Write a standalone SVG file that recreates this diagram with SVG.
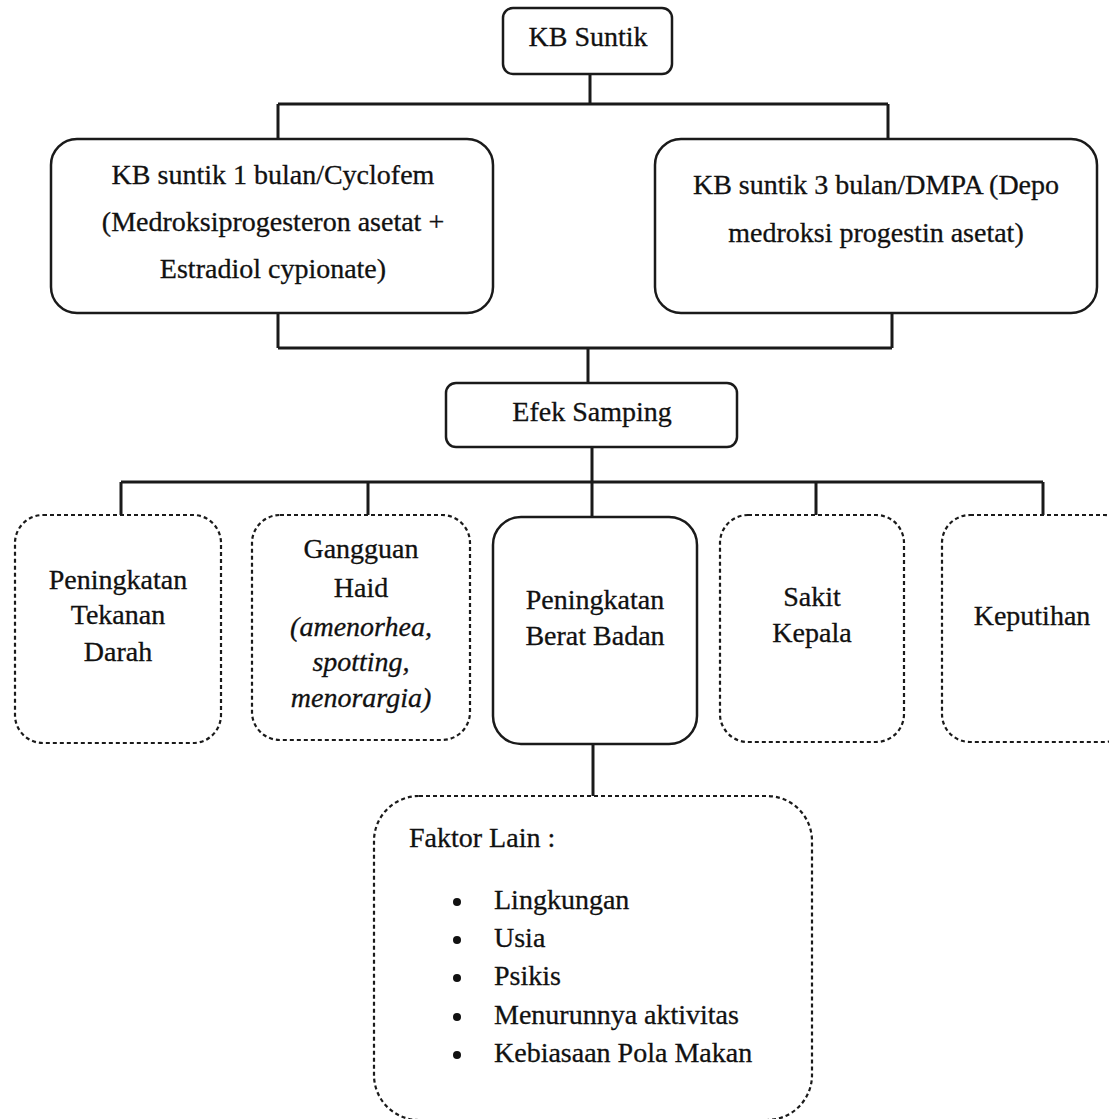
<svg xmlns="http://www.w3.org/2000/svg" width="1109" height="1119" viewBox="0 0 1109 1119">
<style>
.box{fill:#fff;stroke:#1a1a1a;stroke-width:2.5}
.dash{fill:#fff;stroke:#1a1a1a;stroke-width:2.2;stroke-dasharray:4 3}
.ln{fill:none;stroke:#1a1a1a;stroke-width:3}
text{font-family:"Liberation Serif","Times New Roman",serif;font-size:28px;fill:#111;text-anchor:middle;stroke:#111;stroke-width:0.3}
.it{font-style:italic}
.l{text-anchor:start}
</style>
<rect width="1109" height="1119" fill="#fff"/>
<g id="connectors">
<path class="ln" d="M590 74V104M278 104H888M278 104V140M888 104V140"/>
<path class="ln" d="M278 313V348M892 313V348M278 348H892M588 348V383"/>
<path class="ln" d="M592 447V482M121 482H1043M121 482V516M368 482V516M592 482V517M816 482V516M1043 482V516"/>
<path class="ln" d="M593 745V796"/>
</g>
<g id="kb-suntik">
<rect class="box" x="503" y="8" width="169" height="66" rx="10"/>
<text x="588" y="46">KB Suntik</text>
</g>
<g id="cyclofem">
<rect class="box" x="51" y="139" width="442" height="174" rx="26"/>
<text x="273" y="184">KB suntik 1 bulan/Cyclofem</text>
<text x="273" y="231">(Medroksiprogesteron asetat +</text>
<text x="273" y="278">Estradiol cypionate)</text>
</g>
<g id="dmpa">
<rect class="box" x="655" y="139" width="442" height="174" rx="26"/>
<text x="876" y="194">KB suntik 3 bulan/DMPA (Depo</text>
<text x="876" y="242">medroksi progestin asetat)</text>
</g>
<g id="efek-samping">
<rect class="box" x="446" y="383" width="291" height="64" rx="10"/>
<text x="592" y="421">Efek Samping</text>
</g>
<g id="tekanan-darah">
<rect class="dash" x="15" y="515" width="206" height="228" rx="28"/>
<text x="118" y="589">Peningkatan</text>
<text x="118" y="624">Tekanan</text>
<text x="118" y="661">Darah</text>
</g>
<g id="gangguan-haid">
<rect class="dash" x="252" y="515" width="218" height="225" rx="28"/>
<text x="361" y="558">Gangguan</text>
<text x="361" y="597">Haid</text>
<text class="it" x="361" y="636">(amenorhea,</text>
<text class="it" x="361" y="671">spotting,</text>
<text class="it" x="361" y="707">menorargia)</text>
</g>
<g id="berat-badan">
<rect class="box" x="493" y="517" width="204" height="227" rx="28"/>
<text x="595" y="609">Peningkatan</text>
<text x="595" y="645">Berat Badan</text>
</g>
<g id="sakit-kepala">
<rect class="dash" x="720" y="515" width="184" height="227" rx="28"/>
<text x="812" y="606">Sakit</text>
<text x="812" y="642">Kepala</text>
</g>
<g id="keputihan">
<rect class="dash" x="942" y="515" width="190" height="227" rx="28"/>
<text x="1032" y="625">Keputihan</text>
</g>
<g id="faktor-lain">
<rect class="dash" x="374" y="796" width="438" height="324" rx="45"/>
<text class="l" x="409" y="847">Faktor Lain :</text>
<g fill="#111">
<circle cx="457" cy="902" r="4"/>
<circle cx="457" cy="940" r="4"/>
<circle cx="457" cy="978" r="4"/>
<circle cx="457" cy="1017" r="4"/>
<circle cx="457" cy="1055" r="4"/>
</g>
<text class="l" x="494" y="909">Lingkungan</text>
<text class="l" x="494" y="947">Usia</text>
<text class="l" x="494" y="985">Psikis</text>
<text class="l" x="494" y="1024">Menurunnya aktivitas</text>
<text class="l" x="494" y="1062">Kebiasaan Pola Makan</text>
</g>
</svg>
